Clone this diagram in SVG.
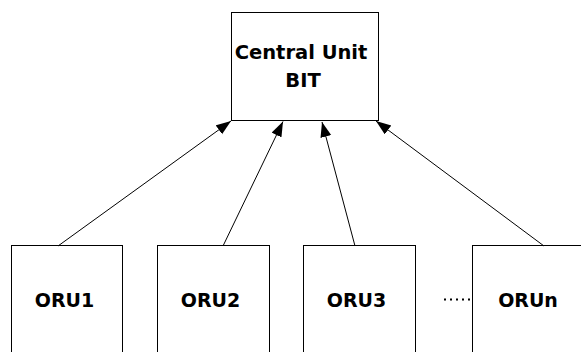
<svg xmlns="http://www.w3.org/2000/svg" width="581" height="352" viewBox="0 0 581 352">
<style>
.box{fill:#fff;stroke:#000;stroke-width:1}
.lbl{font-family:"DejaVu Sans",Verdana,sans-serif;font-weight:bold;font-size:19px;fill:#000;text-anchor:middle}
.big{font-size:19.5px}
.con{stroke:#000;stroke-width:1;fill:none}
</style>
<defs>
<marker id="ah" markerUnits="userSpaceOnUse" markerWidth="16" markerHeight="12" refX="15" refY="5.5" orient="auto">
<path d="M0,0 L15,5.5 L0,11 z" fill="#000"/>
</marker>
</defs>
<rect width="581" height="352" fill="#fff"/>
<g id="central">
<rect class="box" x="231.5" y="12.5" width="147" height="108"/>
<text class="lbl big" x="301" y="59">Central Unit</text>
<text class="lbl big" x="303" y="87">BIT</text>
</g>
<g id="oru1">
<rect class="box" x="11.5" y="245.5" width="111" height="120"/>
<text class="lbl" x="64.5" y="307">ORU1</text>
</g>
<g id="oru2">
<rect class="box" x="157.5" y="245.5" width="112" height="120"/>
<text class="lbl" x="210.5" y="307">ORU2</text>
</g>
<g id="oru3">
<rect class="box" x="303.5" y="245.5" width="112" height="120"/>
<text class="lbl" x="356.5" y="307">ORU3</text>
</g>
<g id="orun">
<rect class="box" x="472.5" y="245.5" width="130" height="120"/>
<text class="lbl" x="528" y="307">ORUn</text>
</g>
<g id="connectors">
<line class="con" x1="58" y1="246" x2="231" y2="121" marker-end="url(#ah)"/>
<line class="con" x1="223" y1="246" x2="283" y2="121.5" marker-end="url(#ah)"/>
<line class="con" x1="355" y1="246" x2="322" y2="122" marker-end="url(#ah)"/>
<line class="con" x1="544" y1="246" x2="376" y2="121" marker-end="url(#ah)"/>
<line x1="444" y1="299.5" x2="472" y2="299.5" stroke="#000" stroke-width="2" stroke-dasharray="2 4"/>
</g>
</svg>
